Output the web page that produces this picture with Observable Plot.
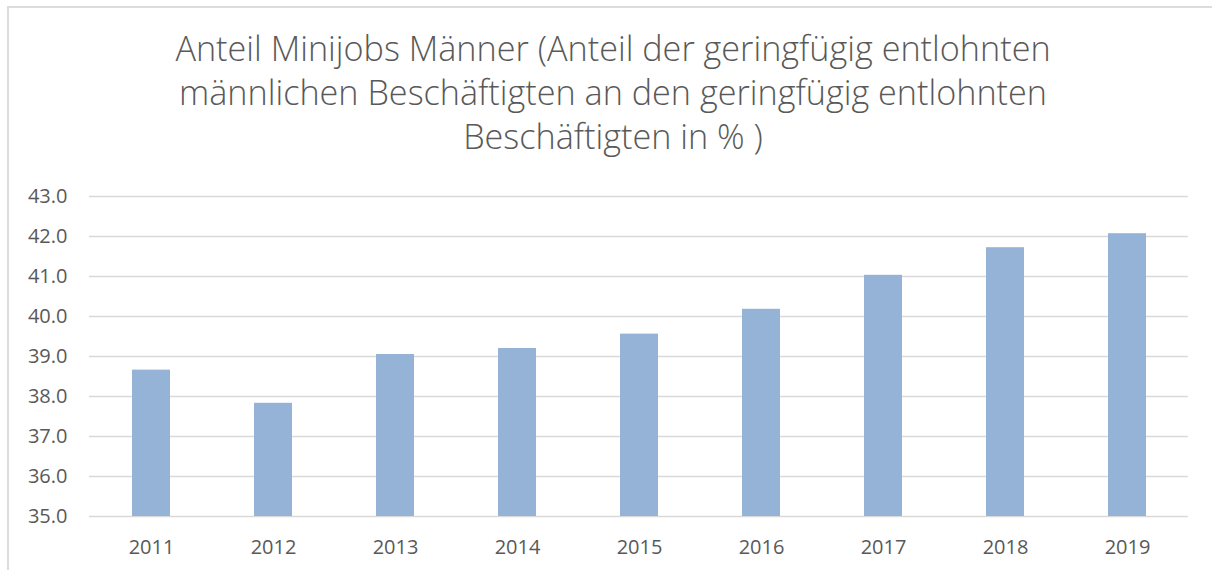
<!DOCTYPE html>
<html>
<head>
<meta charset="utf-8">
<script src="https://cdn.jsdelivr.net/npm/d3@7"></script>
<script src="https://cdn.jsdelivr.net/npm/@observablehq/plot@0.6"></script>
<style>
  html, body { margin: 0; padding: 0; background: #fff; }
  #wrap { position: relative; width: 1212px; height: 570px; overflow: hidden; }
  #frame { position: absolute; left: 7px; top: 6px; width: 1230px; height: 600px;
           border-left: 2px solid #dcdcdc; border-top: 2px solid #dcdcdc; box-sizing: border-box; }
  #title { position: absolute; left: 0; top: 26px; width: 1226px; text-align: center; white-space: nowrap;
           font-family: "Open Sans", sans-serif; font-weight: 300; font-size: 34.2px; line-height: 44px; color: #595959; }
  #chart { position: absolute; left: 0; top: 170px; }
</style>
</head>
<body>
<div id="wrap">
  <div id="frame"></div>
  <div id="title">Anteil Minijobs Männer (Anteil der geringfügig entlohnten<br>männlichen Beschäftigten an den geringfügig entlohnten<br>Beschäftigten in % )</div>
  <div id="chart"></div>
</div>
<script>
const years = ["2011", "2012", "2013", "2014", "2015", "2016", "2017", "2018", "2019"];
const shares = [38.66, 37.83, 39.05, 39.20, 39.56, 40.18, 41.03, 41.72, 42.07];
const yTicks = [35, 36, 37, 38, 39, 40, 41, 42, 43];
const yMin = 35;
const yMax = 43;

const data = years.map((year, i) => ({ year, share: shares[i] }));

const chart = Plot.plot({
  width: 1212,
  height: 400,
  marginTop: 26,
  marginBottom: 54,
  marginLeft: 89,
  marginRight: 24,
  style: { fontFamily: "'Open Sans', sans-serif", fontSize: "20px", color: "#595959", background: "transparent" },
  x: { domain: years, paddingInner: 0.69, paddingOuter: 0.345, label: null },
  y: { domain: [yMin, yMax], label: null },
  marks: [
    Plot.gridY(yTicks, { stroke: "#d9d9d9", strokeOpacity: 1, strokeWidth: 1.4 }),
    Plot.barY(data, { x: "year", y1: yMin, y2: "share", fill: "#95b3d7" }),
    Plot.axisY(yTicks, { tickSize: 0, tickPadding: 22, tickFormat: d => d.toFixed(1), fill: "#595959", fontSize: 20, label: null }),
    Plot.axisX({ tickSize: 0, tickPadding: 23, fill: "#595959", fontSize: 20, label: null })
  ]
});
document.getElementById("chart").appendChild(chart);
</script>
</body>
</html>
